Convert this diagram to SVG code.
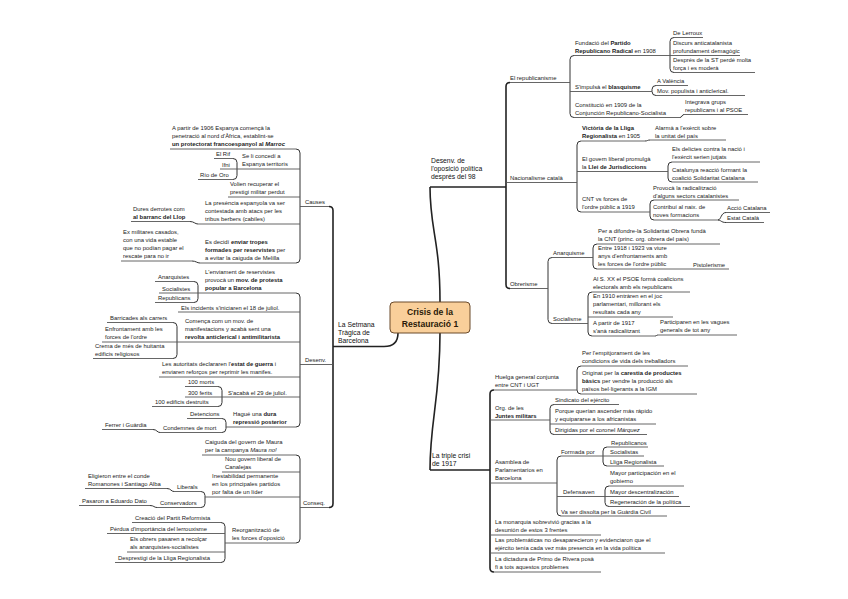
<svg xmlns="http://www.w3.org/2000/svg" width="848" height="599" viewBox="0 0 848 599">
<style>
text{font-family:"Liberation Sans",Arial,sans-serif;font-size:5.9px;fill:#222}
.b{font-weight:bold}
.i{font-style:italic}
.m{font-size:6.8px;fill:#111}
.u{stroke:#555;stroke-width:0.9;fill:none}
.mu{stroke:#222;stroke-width:1.4;fill:none}
.c{stroke:#333;stroke-width:1;fill:none}
.mc{stroke:#222;stroke-width:1.6;fill:none}
.ct{font-size:8.6px;font-weight:bold;fill:#2a1a08}
</style>
<rect width="848" height="599" fill="#fff"/>
<g id="connectors">
<path class="mc" d="M398 333 C398 343 393 346.5 384 346.5"/>
<path class="mc" d="M440 302 C440 240 430 230 430 187"/>
<path class="mc" d="M440 333 C440 400 430 420 430 470"/>
<path class="mu" d="M333 346.5 H384"/>
<path class="mu" d="M430 187 H506"/>
<path class="mu" d="M430 470 H490"/>
<path class="mc" d="M329 206.5 Q333 206.5 333 210.5 V503.5 Q333 507.5 329 507.5"/>
<path class="mc" d="M510 82.5 Q506 82.5 506 86.5 V284.5 Q506 288.5 510 288.5"/>
<path class="mc" d="M494 390 Q490 390 490 394 V568 Q490 572 494 572"/>
<path class="c" d="M296 149 Q300 149 300 153 V259 Q300 263 296 263"/>
<path class="c" d="M233 158.5 Q237 158.5 237 162.5 V175.5 Q237 179.5 233 179.5"/>
<path class="c" d="M190 221.5 C194 221.5 195 224 198 224"/>
<path class="c" d="M192 261 C196 261 197 263 200 263"/>
<path class="c" d="M296 293 Q300 293 300 297 V423 Q300 427 296 427"/>
<path class="c" d="M194 281.5 Q198 281.5 198 285.5 V298.5 Q198 302.5 194 302.5"/>
<path class="c" d="M173 322.5 Q177 322.5 177 326.5 V354.5 Q177 358.5 173 358.5"/>
<path class="c" d="M218 386.5 Q222 386.5 222 390.5 V402.5 Q222 406.5 218 406.5"/>
<path class="c" d="M222 418.5 Q226 418.5 226 422.5 V428.5 Q226 432.5 222 432.5"/>
<path class="c" d="M153 429.5 C157 429.5 157 432.5 160 432.5"/>
<path class="c" d="M296 455 Q300 455 300 459 V539 Q300 543 296 543"/>
<path class="c" d="M201 491.5 Q205 491.5 205 495.5 V503.5 Q205 507.5 201 507.5"/>
<path class="c" d="M167 488.5 C171 488.5 171 491.5 174 491.5"/>
<path class="c" d="M150 505.5 C154 505.5 154 507.5 157 507.5"/>
<path class="c" d="M221 522.5 Q225 522.5 225 526.5 V558.5 Q225 562.5 221 562.5"/>
<path class="c" d="M574 55.5 Q570 55.5 570 59.5 V113.5 Q570 117.5 574 117.5"/>
<path class="c" d="M674 37.5 Q670 37.5 670 41.5 V68.5 Q670 72.5 674 72.5"/>
<path class="c" d="M656 85.5 Q652 85.5 652 89.5 V91.5 Q652 95.5 656 95.5"/>
<path class="c" d="M680 117.5 C682 117.5 682 114.5 684 114.5"/>
<path class="c" d="M581 141 Q577 141 577 145 V208 Q577 212 581 212"/>
<path class="c" d="M645 141 C647.5 141 647.5 140 650 140"/>
<path class="c" d="M672 162 Q668 162 668 166 V178 Q668 182 672 182"/>
<path class="c" d="M654 200 Q650 200 650 204 V216 Q650 220 654 220"/>
<path class="c" d="M718 220 C721 220 721 212.5 726 212.5"/>
<path class="c" d="M718 220 C721 220 721 222.5 726 222.5"/>
<path class="c" d="M552 257.5 Q548 257.5 548 261.5 V319.5 Q548 323.5 552 323.5"/>
<path class="c" d="M597 244 Q593 244 593 248 V265 Q593 269 597 269"/>
<path class="c" d="M592 292 Q588 292 588 296 V332 Q588 336 592 336"/>
<path class="c" d="M655 336 C656.5 336 656.5 335 658 335"/>
<path class="c" d="M581 366 Q577 366 577 370 V390 Q577 394 581 394"/>
<path class="c" d="M554 404.5 Q550 404.5 550 408.5 V430.5 Q550 434.5 554 434.5"/>
<path class="c" d="M561 456 Q557 456 557 460 V512 Q557 516 561 516"/>
<path class="c" d="M607 447 Q603 447 603 451 V462 Q603 466 607 466"/>
<path class="c" d="M609 486 Q605 486 605 490 V502.5 Q605 506.5 609 506.5"/>
</g>
<g id="n-central">
<rect x="390" y="302" width="80" height="31" rx="4" fill="#f9cf9a" stroke="#6b4a2a" stroke-width="1"/>
<text class="ct" x="430" y="315" text-anchor="middle">Crisis de la</text>
<text class="ct" x="430" y="327" text-anchor="middle">Restauració 1</text>
</g>
<g id="n-setmana"><text class="m" x="338" y="327">La Setmana</text><text class="m" x="338" y="335">Tràgica de</text><text class="m" x="338" y="343">Barcelona</text></g>
<g id="n-desenvop"><text class="m" x="431" y="163">Desenv. de</text><text class="m" x="431" y="171">l'oposició política</text><text class="m" x="431" y="179">després del 98</text></g>
<g id="n-triple"><text class="m" x="432" y="458">La triple crisi</text><text class="m" x="432" y="466">de 1917</text></g>

<g id="n-causes"><text x="305" y="204">Causes</text><path class="u" d="M300 206.5 H329"/></g>
<g id="n-apartir"><text x="172" y="130">A partir de 1906 Espanya començà la</text><text x="172" y="138">penetració al nord d'Àfrica, establint-se</text><text x="172" y="146" class="b">un protectorat francoespanyol al <tspan class="i">Marroc</tspan></text><path class="u" d="M170 149 H296"/></g>
<g id="n-seli"><text x="242" y="158">Se li concedí a</text><text x="242" y="166">Espanya territoris</text><path class="u" d="M237 169 H300"/></g>
<g id="n-elrif"><text x="216" y="156">El Rif</text><path class="u" d="M214 158.5 H233"/></g>
<g id="n-ifni"><text x="222" y="166.5">Ifni</text><path class="u" d="M220 169 H237"/></g>
<g id="n-riodeoro"><text x="200" y="177">Río de Oro</text><path class="u" d="M198 179.5 H233"/></g>
<g id="n-volien"><text x="230" y="186">Volien recuperar el</text><text x="230" y="194">prestigi militar perdut</text><path class="u" d="M228 197 H300"/></g>
<g id="n-presencia"><text x="205" y="205">La presència espanyola va ser</text><text x="205" y="213">contestada amb atacs per les</text><text x="205" y="221">tribus berbers (cabiles)</text><path class="u" d="M198 224 H300"/></g>
<g id="n-dures"><text x="133" y="211">Dures derrotes com</text><text x="133" y="219" class="b">al barranc del Llop</text><path class="u" d="M131 221.5 H190"/></g>
<g id="n-esdecidi"><text x="205" y="244">Es decidí <tspan class="b">enviar tropes</tspan></text><text x="205" y="252"><tspan class="b">formades per reservistes</tspan>  per</text><text x="205" y="260">a evitar la caiguda de Melilla</text><path class="u" d="M200 263 H296"/></g>
<g id="n-exmil"><text x="123" y="234">Ex militares casados,</text><text x="123" y="242">con una vida estable</text><text x="123" y="250">que no podían pagar el</text><text x="123" y="258">rescate para no ir</text><path class="u" d="M121 261 H192"/></g>

<g id="n-desenv"><text x="305" y="362">Desenv.</text><path class="u" d="M300 364.5 H333"/></g>
<g id="n-enviament"><text x="205" y="274">L'enviament de reservistes</text><text x="205" y="282">provocà un <tspan class="b">mov. de protesta</tspan></text><text x="205" y="290" class="b">popular a Barcelona</text><path class="u" d="M198 293 H296"/></g>
<g id="n-anarquistes"><text x="158" y="279">Anarquistes</text><path class="u" d="M155 281.5 H194"/></g>
<g id="n-socialistes"><text x="162" y="290.5">Socialistes</text><path class="u" d="M159 293 H198"/></g>
<g id="n-republicans"><text x="158" y="300">Republicans</text><path class="u" d="M155 302.5 H194"/></g>
<g id="n-incidents"><text x="181" y="309.5">Els incidents s'iniciaren el 18 de juliol.</text><path class="u" d="M178 312 H300"/></g>
<g id="n-comenca"><text x="185" y="323">Comença com un mov. de</text><text x="185" y="331">manifestacions y acabà sent una</text><text x="185" y="339" class="b">revolta anticlerical i antimilitarista</text><path class="u" d="M177 342 H300"/></g>
<g id="n-barricades"><text x="110" y="320">Barricades als carrers</text><path class="u" d="M107 322.5 H173"/></g>
<g id="n-enfrontament"><text x="105" y="331">Enfrontament amb les</text><text x="105" y="339">forces de l'ordre</text><path class="u" d="M102 342 H177"/></g>
<g id="n-crema"><text x="95" y="348">Crema de més de huitanta</text><text x="95" y="356">edificis religiosos</text><path class="u" d="M93 358.5 H173"/></g>
<g id="n-autoritats"><text x="162" y="366">Les autoritats declararen  l'<tspan class="b">estat de guerra</tspan>  i</text><text x="162" y="374">enviaren reforços per reprimir les manifes.</text><path class="u" d="M159 377 H300"/></g>
<g id="n-acaba"><text x="228" y="394.5">S'acabà el 29 de juliol.</text><path class="u" d="M222 397 H300"/></g>
<g id="n-100morts"><text x="188" y="384">100 morts</text><path class="u" d="M185 386.5 H218"/></g>
<g id="n-300ferits"><text x="188" y="394.5">300 ferits</text><path class="u" d="M185 397 H222"/></g>
<g id="n-100edificis"><text x="155" y="404">100 edificis destruïts</text><path class="u" d="M152 406.5 H218"/></g>
<g id="n-hague"><text x="233" y="416">Hagué una <tspan class="b">dura</tspan></text><text x="233" y="424" class="b">repressió posterior</text><path class="u" d="M226 427 H296"/></g>
<g id="n-detencions"><text x="190" y="416">Detencions</text><path class="u" d="M187 418.5 H222"/></g>
<g id="n-condemnes"><text x="163" y="430">Condemnes de mort</text><path class="u" d="M160 432.5 H222"/></g>
<g id="n-ferrer"><text x="105" y="427">Ferrer i Guàrdia</text><path class="u" d="M102 429.5 H153"/></g>

<g id="n-conseq"><text x="303" y="505">Conseq.</text><path class="u" d="M300 507.5 H329"/></g>
<g id="n-caiguda"><text x="205" y="444">Caiguda del govern de Maura</text><text x="205" y="452">per la campanya <tspan class="i">Maura no!</tspan></text><path class="u" d="M202 455 H296"/></g>
<g id="n-nougovern"><text x="225" y="461">Nou govern liberal de</text><text x="225" y="469">Canalejas</text><path class="u" d="M222 472 H300"/></g>
<g id="n-inestab"><text x="212" y="478">Inestabilidad permanente</text><text x="212" y="486">en los principales partidos</text><text x="212" y="494">por falta de un líder</text><path class="u" d="M205 497 H300"/></g>
<g id="n-liberals"><text x="177" y="489">Liberals</text><path class="u" d="M174 491.5 H201"/></g>
<g id="n-conservadors"><text x="160" y="505">Conservadors</text><path class="u" d="M157 507.5 H201"/></g>
<g id="n-eligieron"><text x="88" y="478">Eligieron entre el conde</text><text x="88" y="486">Romanones i Santiago Alba</text><path class="u" d="M85 488.5 H167"/></g>
<g id="n-pasaron"><text x="82" y="503">Pasaron a Eduardo Dato</text><path class="u" d="M79 505.5 H150"/></g>
<g id="n-reorg"><text x="232" y="532">Reorganització de</text><text x="232" y="540">les forces d'oposició</text><path class="u" d="M225 543 H296"/></g>
<g id="n-creacio"><text x="135" y="520">Creació del Partit Reformista</text><path class="u" d="M132 522.5 H221"/></g>
<g id="n-perdua"><text x="110" y="531">Pèrdua d'importància del lerrouxisme</text><path class="u" d="M107 533.5 H225"/></g>
<g id="n-obrers"><text x="130" y="541">Els obrers pasaren a recolçar</text><text x="130" y="549">als anarquistes-socialistes</text><path class="u" d="M127 552 H225"/></g>
<g id="n-desprestigi"><text x="118" y="560">Desprestigi de la Lliga Regionalista</text><path class="u" d="M115 562.5 H221"/></g>

<g id="n-republicanisme"><text x="510" y="80">El republicanisme</text><path class="u" d="M510 82.5 H570"/></g>
<g id="n-fundacio"><text x="575" y="45">Fundació del <tspan class="b">Partido</tspan></text><text x="575" y="53"><tspan class="b">Republicano Radical</tspan>  en 1908</text><path class="u" d="M574 55.5 H670"/></g>
<g id="n-lerroux"><text x="673" y="35">De Lerroux</text><path class="u" d="M674 37.5 H703"/></g>
<g id="n-discurs"><text x="673" y="45">Discurs anticatalanista</text><text x="673" y="53">profundament demagògic</text><path class="u" d="M670 55.5 H740"/></g>
<g id="n-despres"><text x="673" y="62">Després de la ST perdé molta</text><text x="673" y="70">força i es moderà</text><path class="u" d="M674 72.5 H755"/></g>
<g id="n-blasquisme"><text x="575" y="89">S'impulsà el <tspan class="b">blasquisme</tspan></text><path class="u" d="M570 91.5 H652"/></g>
<g id="n-valencia"><text x="657" y="83">A València</text><path class="u" d="M656 85.5 H688"/></g>
<g id="n-movpop"><text x="657" y="93">Mov. populista i anticlerical.</text><path class="u" d="M656 95.5 H745"/></g>
<g id="n-constitucio"><text x="575" y="107">Constitució en 1909 de la</text><text x="575" y="115">Conjunción Republicano-Socialista</text><path class="u" d="M574 117.5 H680"/></g>
<g id="n-integrava"><text x="685" y="104">Integrava grups</text><text x="685" y="112">republicans i al PSOE</text><path class="u" d="M684 114.5 H748"/></g>

<g id="n-nacionalisme"><text x="510" y="180">Nacionalisme català</text><path class="u" d="M506 182.5 H577"/></g>
<g id="n-victoria"><text x="582" y="130" class="b">Victòria de la Lliga</text><text x="582" y="138"><tspan class="b">Regionalista</tspan> en 1905</text><path class="u" d="M581 141 H645"/></g>
<g id="n-alarma"><text x="655" y="130">Alarmà a l'exèrcit sobre</text><text x="655" y="137.5">la unitat del país</text><path class="u" d="M650 140 H726"/></g>
<g id="n-govern"><text x="582" y="161">El govern liberal promulgà</text><text x="582" y="168.5">la <tspan class="b">Llei de Jurisdiccions</tspan></text><path class="u" d="M577 171.5 H668"/></g>
<g id="n-delictes"><text x="672" y="151">Els delictes contra la nació i</text><text x="672" y="159">l'exèrcit serien jutjats</text><path class="u" d="M672 162 H760"/></g>
<g id="n-catalunya"><text x="672" y="172">Catalunya reacció formant la</text><text x="672" y="179.5">coalició Solidaritat Catalana</text><path class="u" d="M672 182 H758"/></g>
<g id="n-cnt"><text x="582" y="201">CNT vs forces de</text><text x="582" y="209">l'ordre públic a 1919</text><path class="u" d="M581 212 H650"/></g>
<g id="n-provoca"><text x="653" y="190">Provocà la radicalització</text><text x="653" y="197.5">d'alguns sectors catalanistes</text><path class="u" d="M654 200 H739"/></g>
<g id="n-contribui"><text x="653" y="209">Contribuí al naix. de</text><text x="653" y="217">noves formacions</text><path class="u" d="M654 220 H718"/></g>
<g id="n-accio"><text x="727" y="210">Acció Catalana</text><path class="u" d="M726 212.5 H770"/></g>
<g id="n-estat"><text x="727" y="220">Estat Català</text><path class="u" d="M726 222.5 H764"/></g>

<g id="n-obrerisme"><text x="510" y="286">Obrerisme</text><path class="u" d="M510 288.5 H548"/></g>
<g id="n-anarquisme"><text x="553" y="255">Anarquisme</text><path class="u" d="M552 257.5 H593"/></g>
<g id="n-perdifondre"><text x="598" y="233">Per a difondre-la Solidaritat Obrera fundà</text><text x="598" y="241">la CNT (princ. org. obrera del país)</text><path class="u" d="M597 244 H720"/></g>
<g id="n-entre"><text x="598" y="250">Entre 1918 i 1923 va viure</text><text x="598" y="258">anys d'enfrontaments amb</text><text x="598" y="266">les forces de l'ordre públic</text><path class="u" d="M597 269 H690"/></g>
<g id="n-pistolerisme"><text x="693" y="266.5">Pistolerisme</text><path class="u" d="M690 269 H729"/></g>
<g id="n-socialisme"><text x="553" y="321">Socialisme</text><path class="u" d="M552 323.5 H588"/></g>
<g id="n-als20"><text x="593" y="281">Al S. XX el PSOE formà coalicions</text><text x="593" y="289">electorals amb els republicans</text><path class="u" d="M592 292 H690"/></g>
<g id="n-en1910"><text x="593" y="298">En 1910 entràren en el joc</text><text x="593" y="306">parlamentari, millorant els</text><text x="593" y="314">resultats cada any</text><path class="u" d="M588 317 H673"/></g>
<g id="n-apartir1917"><text x="593" y="325">A partir de 1917</text><text x="593" y="333">s'anà radicalitzant</text><path class="u" d="M592 336 H655"/></g>
<g id="n-participaren"><text x="660" y="324">Participaren en les vagues</text><text x="660" y="332">generals de tot any</text><path class="u" d="M658 335 H737"/></g>

<g id="n-huelga"><text x="495" y="379">Huelga general conjunta</text><text x="495" y="387">entre CNT i UGT</text><path class="u" d="M494 390 H577"/></g>
<g id="n-perlemp"><text x="582" y="355">Per l'empitjorament de les</text><text x="582" y="363">condicions de vida dels treballadors</text><path class="u" d="M581 366 H688"/></g>
<g id="n-originat"><text x="582" y="375">Originat per la <tspan class="b">carestia de productes</tspan></text><text x="582" y="383"><tspan class="b">bàsics</tspan> per vendre la producció als</text><text x="582" y="391">països bel·ligerants a la IGM</text><path class="u" d="M581 394 H697"/></g>
<g id="n-juntes"><text x="495" y="410">Org. de les</text><text x="495" y="417.5" class="b">Juntes militars</text><path class="u" d="M490 420 H550"/></g>
<g id="n-sindicato"><text x="555" y="402">Sindicato del ejército</text><path class="u" d="M554 404.5 H619"/></g>
<g id="n-porque"><text x="555" y="413">Porque querían ascender más rápido</text><text x="555" y="421">y equipararse a los africanistas</text><path class="u" d="M550 424 H656"/></g>
<g id="n-dirigidas"><text x="555" y="432">Dirigidas por el coronel <tspan class="i">Márquez</tspan></text><path class="u" d="M554 434.5 H647"/></g>
<g id="n-asamblea"><text x="495" y="464">Asamblea de</text><text x="495" y="472">Parlamentarios en</text><text x="495" y="480">Barcelona</text><path class="u" d="M490 483 H557"/></g>
<g id="n-formada"><text x="561" y="453.5">Formada por</text><path class="u" d="M561 456 H603"/></g>
<g id="n-republicanos"><text x="611" y="444.5">Republicanos</text><path class="u" d="M607 447 H648"/></g>
<g id="n-socialistas"><text x="610" y="454">Socialistas</text><path class="u" d="M603 456 H644"/></g>
<g id="n-lliga"><text x="610" y="463.5">Lliga Regionalista</text><path class="u" d="M607 466 H664"/></g>
<g id="n-defensaven"><text x="563" y="494">Defensaven</text><path class="u" d="M557 496.5 H605"/></g>
<g id="n-mayorpart"><text x="610" y="475">Mayor participación en el</text><text x="610" y="483">gobierno</text><path class="u" d="M609 486 H684"/></g>
<g id="n-mayordesc"><text x="610" y="494">Mayor descentralización</text><path class="u" d="M605 496.5 H679"/></g>
<g id="n-regen"><text x="610" y="504">Regeneración de la política</text><path class="u" d="M609 506.5 H690"/></g>
<g id="n-dissolta"><text x="561" y="513.5">Va ser dissolta per la Guàrdia Civil</text><path class="u" d="M561 516 H667"/></g>
<g id="n-monarquia"><text x="495" y="524">La monarquia sobrevivió gracias a la</text><text x="495" y="532">desunión de estos 3 frentes</text><path class="u" d="M490 535 H601"/></g>
<g id="n-problematiques"><text x="495" y="542">Las problemáticas no desaparecieron y evidenciaron que el</text><text x="495" y="550">ejército tenía cada vez más presencia en la vida política</text><path class="u" d="M490 553 H665"/></g>
<g id="n-dictadura"><text x="495" y="561">La dictadura de Primo de Rivera posà</text><text x="495" y="569">fi a tots aquestos problemes</text><path class="u" d="M494 572 H601"/></g>
</svg>
